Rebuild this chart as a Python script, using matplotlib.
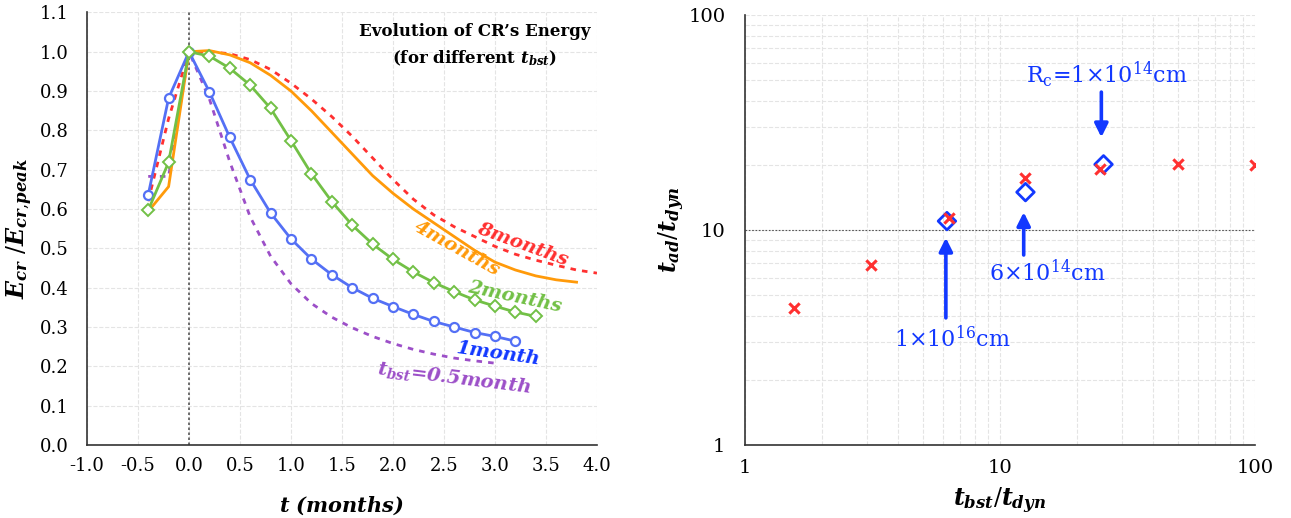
import matplotlib
matplotlib.use('Agg')
import matplotlib.pyplot as plt
from matplotlib.ticker import FixedLocator, FormatStrFormatter, NullFormatter, LogLocator

plt.rcParams['font.family'] = ['DejaVu Serif']
plt.rcParams['mathtext.fontset'] = 'custom'
plt.rcParams['mathtext.rm'] = 'DejaVu Serif'
plt.rcParams['mathtext.it'] = 'DejaVu Serif:italic:bold'
plt.rcParams['mathtext.bf'] = 'DejaVu Serif:bold'
plt.rcParams['axes.unicode_minus'] = False

# ---- left panel data: CR energy vs time (months)
t_half = [-0.4, -0.2, 0.0, 0.2, 0.4, 0.6, 0.8, 1.0, 1.2, 1.4, 1.6, 1.8, 2.0, 2.2, 2.4, 2.6, 2.8, 3.0]
e_half = [0.683, 0.683, 1.0, 0.88, 0.72, 0.58, 0.48, 0.41, 0.36, 0.325, 0.298, 0.276, 0.258, 0.243,
          0.231, 0.221, 0.214, 0.208]

t_1m = [-0.4, -0.2, 0.0, 0.2, 0.4, 0.6, 0.8, 1.0, 1.2, 1.4, 1.6, 1.8, 2.0, 2.2, 2.4, 2.6, 2.8, 3.0, 3.2]
e_1m = [0.636, 0.882, 1.0, 0.898, 0.782, 0.675, 0.59, 0.524, 0.473, 0.433, 0.40, 0.373, 0.352, 0.332,
        0.314, 0.30, 0.286, 0.276, 0.264]

t_2m = [-0.4, -0.2, 0.0, 0.2, 0.4, 0.6, 0.8, 1.0, 1.2, 1.4, 1.6, 1.8, 2.0, 2.2, 2.4, 2.6, 2.8, 3.0, 3.2, 3.4]
e_2m = [0.597, 0.719, 1.0, 0.989, 0.958, 0.915, 0.856, 0.774, 0.69, 0.619, 0.559, 0.511, 0.472, 0.44,
        0.413, 0.39, 0.369, 0.353, 0.338, 0.327]

t_4m = [-0.4, -0.2, 0.0, 0.2, 0.4, 0.6, 0.8, 1.0, 1.2, 1.4, 1.6, 1.8, 2.0, 2.2, 2.4, 2.6, 2.8, 3.0, 3.2,
        3.4, 3.6, 3.8]
e_4m = [0.594, 0.657, 1.0, 1.003, 0.992, 0.972, 0.94, 0.90, 0.85, 0.795, 0.74, 0.685, 0.64, 0.60, 0.565,
        0.53, 0.495, 0.465, 0.445, 0.43, 0.42, 0.414]

t_8m = [-0.4, -0.2, 0.0, 0.2, 0.4, 0.6, 0.8, 1.0, 1.2, 1.4, 1.6, 1.8, 2.0, 2.2, 2.4, 2.6, 2.8, 3.0, 3.2,
        3.4, 3.6, 3.8, 4.0]
e_8m = [0.62, 0.83, 1.0, 1.0, 0.995, 0.98, 0.955, 0.92, 0.88, 0.835, 0.785, 0.73, 0.675, 0.625, 0.585,
        0.555, 0.53, 0.505, 0.485, 0.47, 0.457, 0.445, 0.437]

# ---- right panel data
bst_ratio = [1.5625, 3.125, 6.3, 12.5, 24.6, 50, 100]
ad_ratio = [4.35, 6.9, 11.4, 17.5, 19.3, 20.2, 20.0]
rc_bst = [6.2, 12.6, 25.5]
rc_ad = [11.0, 15.0, 20.2]

BLUE_LINE = '#5470f5'
GREEN = '#72c046'
ORANGE = '#ff9a0a'
RED = '#ff3030'
PURPLE = '#9c4fc8'
BLUE_TXT = '#1238ff'
GRID = '#e4e4e4'

fig = plt.figure(figsize=(12.91, 5.18), dpi=100)
ax = fig.add_axes([0.0674, 0.141, 0.395, 0.835])
ax2 = fig.add_axes([0.577, 0.141, 0.395, 0.830])

# left panel
ax.plot(t_half, e_half, color=PURPLE, lw=2, linestyle=(0, (2, 2.2)))
ax.plot(t_8m, e_8m, color=RED, lw=2, linestyle=(0, (2, 2.2)))
ax.plot(t_4m, e_4m, color=ORANGE, lw=2)
ax.plot(t_1m, e_1m, color=BLUE_LINE, lw=2, marker='o', ms=6.5, mfc='white', mec=BLUE_LINE, mew=1.6)
ax.plot(t_2m, e_2m, color=GREEN, lw=2, marker='D', ms=6, mfc='white', mec=GREEN, mew=1.4)
ax.axvline(0, color='#555555', lw=1.2, linestyle=(0, (1.5, 1.5)), zorder=1)

ax.set_xlim(-1.0, 4.0)
ax.set_ylim(0.0, 1.1)
ax.xaxis.set_major_locator(FixedLocator([-1.0, -0.5, 0.0, 0.5, 1.0, 1.5, 2.0, 2.5, 3.0, 3.5, 4.0]))
ax.yaxis.set_major_locator(FixedLocator([i / 10 for i in range(12)]))
ax.xaxis.set_major_formatter(FormatStrFormatter('%.1f'))
ax.yaxis.set_major_formatter(FormatStrFormatter('%.1f'))
ax.grid(True, color=GRID, lw=0.8, linestyle='--')
ax.set_axisbelow(True)
ax.tick_params(length=0, labelsize=13)
ax.tick_params(axis='y', pad=13)
ax.tick_params(axis='x', pad=9)
for s in ['top', 'right']:
    ax.spines[s].set_visible(False)
for s in ['left', 'bottom']:
    ax.spines[s].set_color('#333333')
    ax.spines[s].set_linewidth(1.2)
ax.set_xlabel('$t$ (months)', fontsize=15, fontstyle='italic', fontweight='bold', labelpad=14)
ax.set_ylabel('$E_{cr}$ $/E_{cr{,}peak}$', fontsize=17, labelpad=4)

ax.text(2.8, 1.015, 'Evolution of CR\u2019s Energy\n(for different $t_{bst}$)', fontsize=12,
        fontweight='bold', ha='center', va='center', linespacing=1.6)

lab = dict(fontstyle='italic', fontweight='bold', fontsize=14, ha='center', va='center')
ax.text(3.27, 0.51, '8months', color=RED, rotation=-20, **lab)
ax.text(2.63, 0.50, '4months', color=ORANGE, rotation=-29, **lab)
ax.text(3.19, 0.376, '2months', color=GREEN, rotation=-12, **lab)
ax.text(3.03, 0.232, '1month', color=BLUE_TXT, rotation=-8, **lab)
ax.text(2.6, 0.171, '$t_{bst}$=0.5month', color=PURPLE, rotation=-7, **lab)

# right panel
ax2.set_xscale('log')
ax2.set_yscale('log')
ax2.set_xlim(1, 100)
ax2.set_ylim(1, 100)
ax2.axhline(10, color='#555555', lw=0.8, linestyle=(0, (1.5, 1.5)), zorder=1)
ax2.scatter(rc_bst, rc_ad, marker='D', s=80, facecolors='none', edgecolors=BLUE_TXT, linewidths=2, zorder=3)
ax2.scatter(bst_ratio, ad_ratio, marker='x', s=55, color=RED, linewidths=2.2, zorder=4)

ax2.xaxis.set_major_locator(LogLocator(base=10))
ax2.yaxis.set_major_locator(LogLocator(base=10))
ax2.xaxis.set_minor_locator(LogLocator(base=10, subs=range(2, 10)))
ax2.yaxis.set_minor_locator(LogLocator(base=10, subs=range(2, 10)))
ax2.xaxis.set_minor_formatter(NullFormatter())
ax2.yaxis.set_minor_formatter(NullFormatter())
ax2.xaxis.set_major_formatter(FormatStrFormatter('%g'))
ax2.yaxis.set_major_formatter(FormatStrFormatter('%g'))
ax2.grid(True, which='both', color=GRID, lw=0.8, linestyle='--')
ax2.set_axisbelow(True)
ax2.tick_params(which='both', length=0, labelsize=14)
ax2.tick_params(axis='y', which='both', pad=14)
ax2.tick_params(axis='x', which='both', pad=10)
for s in ['top', 'right']:
    ax2.spines[s].set_visible(False)
for s in ['left', 'bottom']:
    ax2.spines[s].set_color('#333333')
    ax2.spines[s].set_linewidth(1.2)
ax2.set_xlabel('$t_{bst}/t_{dyn}$', fontsize=17, labelpad=6)
ax2.set_ylabel('$t_{ad}/t_{dyn}$', fontsize=17, labelpad=1)

arr = dict(arrowstyle='-|>', color=BLUE_TXT, lw=2.6, mutation_scale=20, shrinkA=0, shrinkB=0)
ax2.annotate('', xy=(25, 27.0), xytext=(25, 43.8), arrowprops=arr)
ax2.annotate('', xy=(12.4, 12.1), xytext=(12.4, 7.65), arrowprops=arr)
ax2.annotate('', xy=(6.14, 9.2), xytext=(6.14, 3.9), arrowprops=arr)
blue_txt = dict(color=BLUE_TXT, fontsize=16, ha='center', va='center')
ax2.text(26.3, 52.6, 'R$_\\mathregular{c}$=1\u00d710$^\\mathregular{14}$cm', **blue_txt)
ax2.text(15.4, 6.31, '6\u00d710$^\\mathregular{14}$cm', **blue_txt)
ax2.text(6.48, 3.11, '1\u00d710$^\\mathregular{16}$cm', **blue_txt)

fig.savefig('out.png', dpi=100)
